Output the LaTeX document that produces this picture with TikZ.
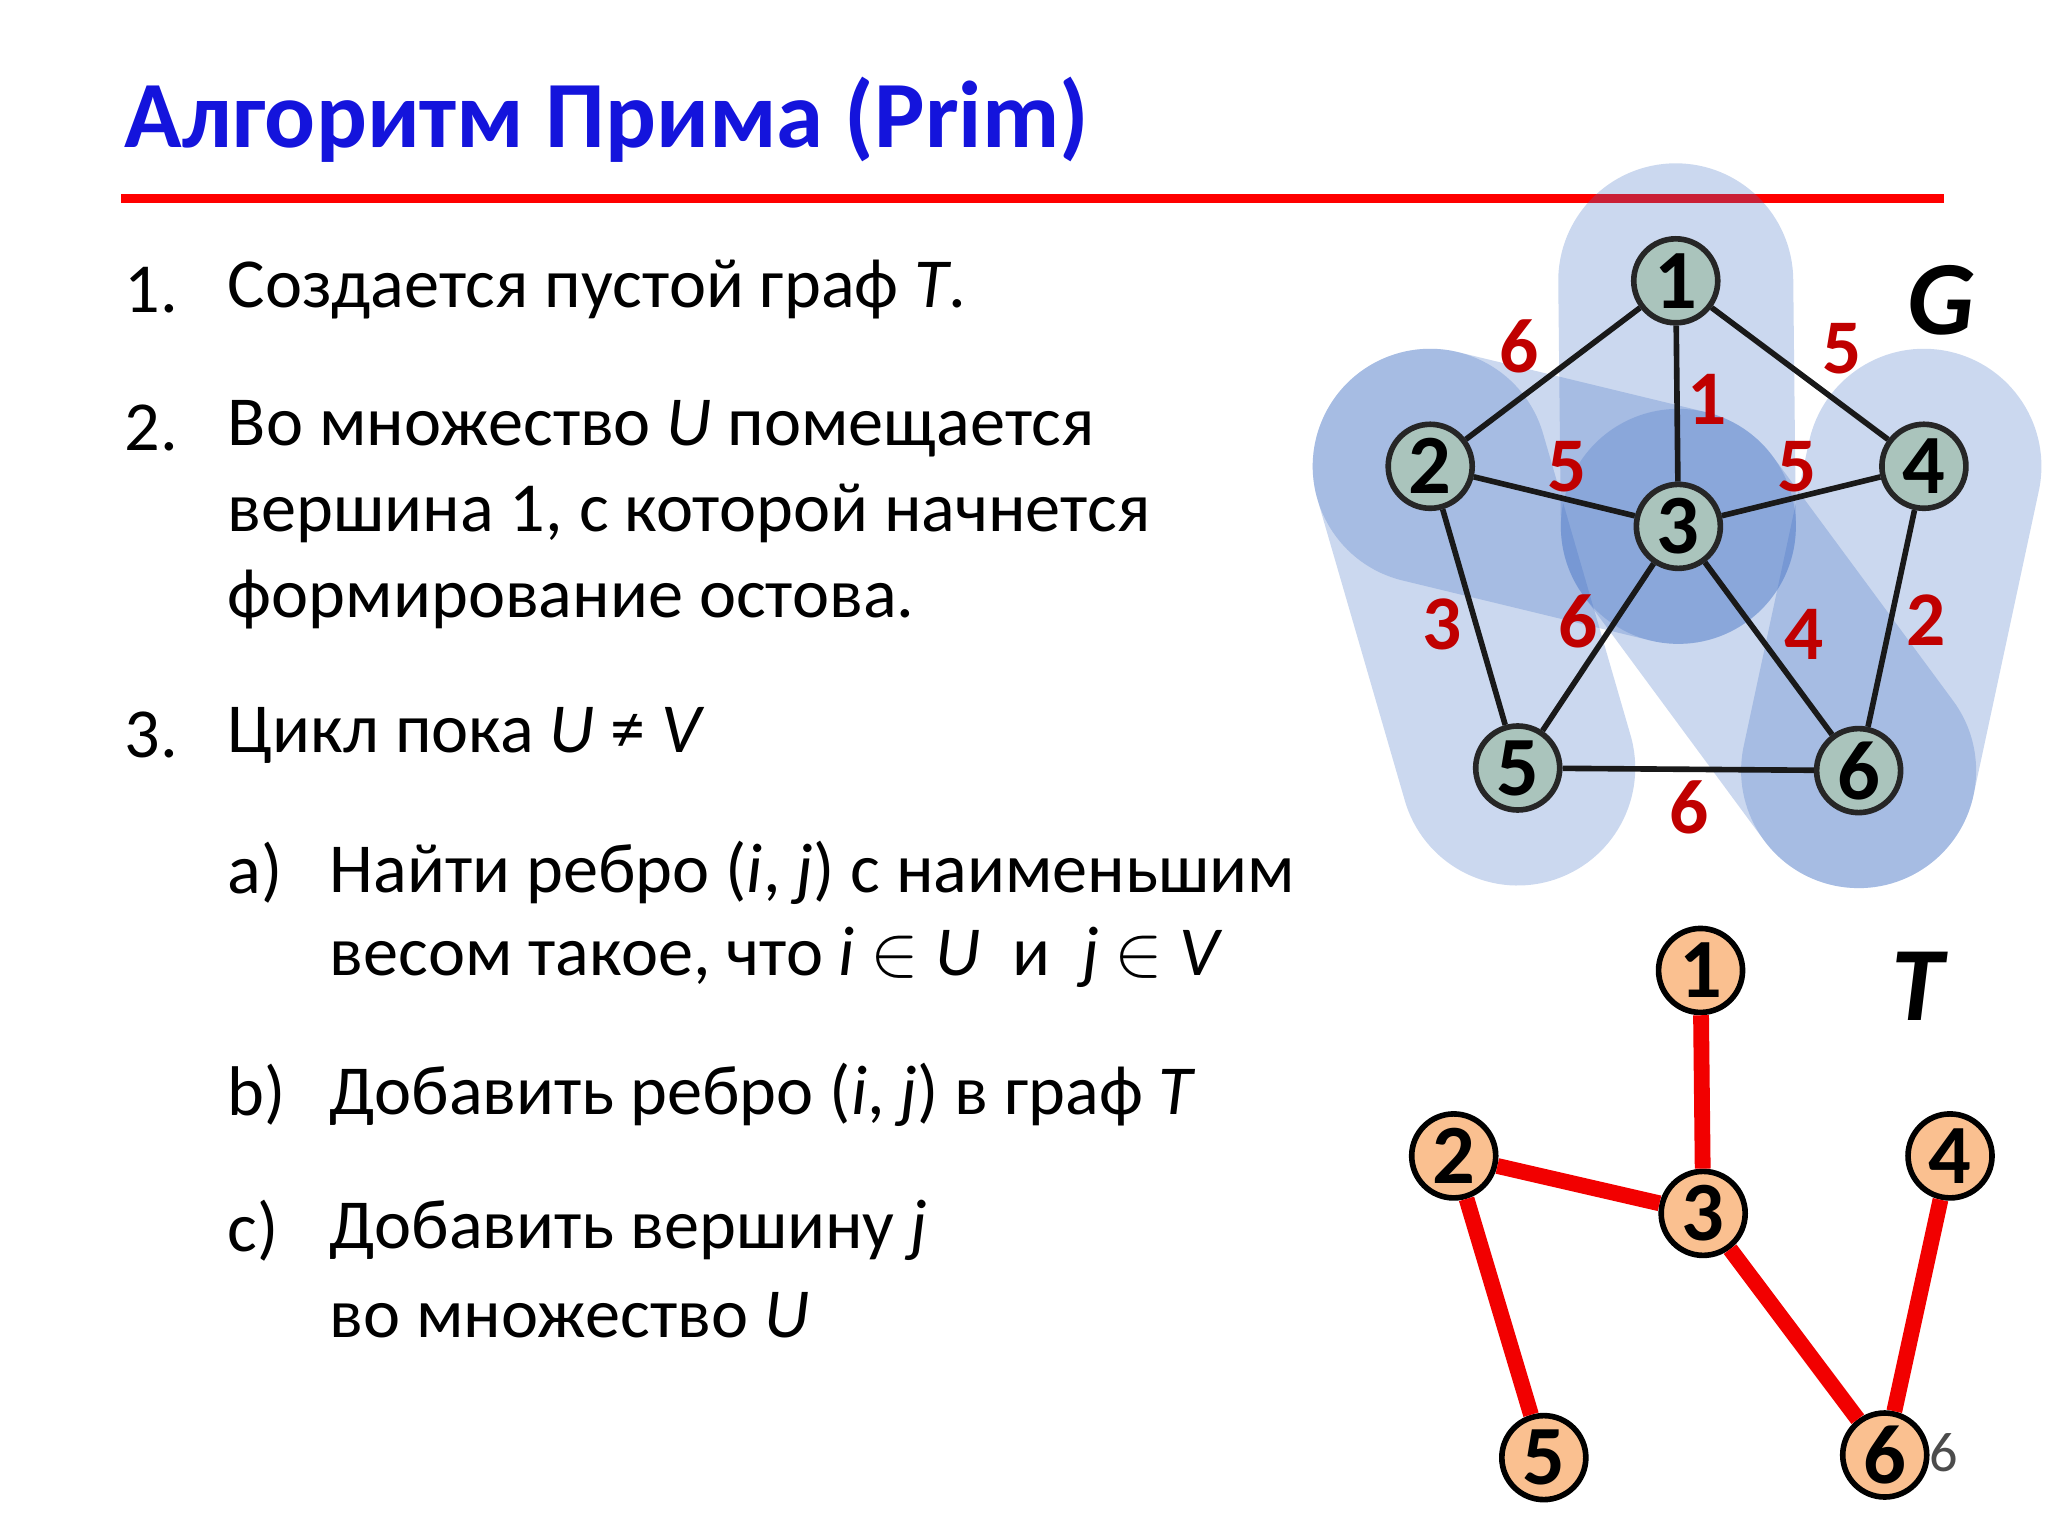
\documentclass[tikz,border=0pt]{standalone}
\usepackage{fontspec}
\setmainfont{Carlito}
\begin{document}
\begin{tikzpicture}[x=0.01306cm,y=-0.01306cm,
 gn/.style={circle,draw=black!85,line width=1.6pt,fill={rgb,255:red,170;green,196;blue,188},minimum size=0.84cm,inner sep=0pt,font=\fontsize{24}{24}\selectfont\bfseries},
 tn/.style={circle,draw=black,line width=1.6pt,fill={rgb,255:red,250;green,192;blue,144},minimum size=0.84cm,inner sep=0pt,font=\fontsize{24}{24}\selectfont\bfseries},
 ge/.style={line width=1.6pt,black!90},
 te/.style={line width=4.5pt,red!95!black},
 hl/.style={line width=2.35cm,line cap=round,draw={rgb,255:red,68;green,114;blue,196},opacity=0.28},
 w/.style={text={rgb,255:red,192;green,0;blue,0},font=\fontsize{22}{22}\selectfont\bfseries},
 tx/.style={anchor=west,font=\fontsize{20}{24}\selectfont},
]
\useasboundingbox (0,0) rectangle (1568,1176);
\node[anchor=west,text={rgb,255:red,20;green,20;blue,220},font=\fontsize{27}{30}\selectfont\bfseries] (title) at (86,92) {Алгоритм Прима (Prim)};
\coordinate (la) at (93,152); \coordinate (lb) at (1488,152);
\draw[line width=2.6pt,red] (la) -- (lb);
% text
\node[tx] (n1) at (86,222) {1.};
\node[tx] (t1) at (165,222) {Создается пустой граф \textit{T}.};
\node[tx] (n2) at (86,328) {2.};
\node[tx] (t2) at (165,328) {Во множество \textit{U} помещается};
\node[tx] (t2b) at (165,393) {вершина 1, с которой начнется};
\node[tx] (t2c) at (165,459) {формирование остова.};
\node[tx] (n3) at (86,563) {3.};
\node[tx] (t3) at (165,563) {Цикл пока \textit{U} ≠ \textit{V}};
\node[tx] (na) at (165,668) {a)};
\node[tx] (ta) at (243,668) {Найти ребро (\textit{i}, \textit{j}) с наименьшим};
\node[tx] (ta2) at (243,733) {весом такое, что \textit{i} $\in$ \textit{U}\ \ и\ \ \textit{j} $\in$ \textit{V}};
\node[tx] (nb) at (165,838) {b)};
\node[tx] (tb) at (243,838) {Добавить ребро (\textit{i}, \textit{j}) в граф \textit{T}};
\node[tx] (nc) at (165,942) {c)};
\node[tx] (tc) at (243,942) {Добавить вершину \textit{j}};
\node[tx] (tc2) at (243,1007) {во множество \textit{U}};
% G
\coordinate (h1) at (1283,215); \coordinate (h2) at (1095,357); \coordinate (h3) at (1285,403);
\coordinate (h4) at (1473,357); \coordinate (h5) at (1162,588); \coordinate (h6) at (1423,590);
\draw[hl] (h1) -- (h3);
\draw[hl] (h2) -- (h3);
\draw[hl] (h2) -- (h5);
\draw[hl] (h3) -- (h6);
\draw[hl] (h4) -- (h6);
\node[gn] (g1) at (h1) {1};
\node[gn] (g2) at (h2) {2};
\node[gn] (g3) at (h3) {3};
\node[gn] (g4) at (h4) {4};
\node[gn] (g5) at (h5) {5};
\node[gn] (g6) at (h6) {6};
\begin{scope}[on background layer/.style={}]
\draw[ge] (g1)--(g2); \draw[ge] (g1)--(g4); \draw[ge] (g1)--(g3);
\draw[ge] (g2)--(g3); \draw[ge] (g3)--(g4); \draw[ge] (g2)--(g5);
\draw[ge] (g3)--(g5); \draw[ge] (g3)--(g6); \draw[ge] (g4)--(g6); \draw[ge] (g5)--(g6);
\end{scope}
\node[w] (w12) at (1163,265) {6};
\node[w] (w14) at (1410,267) {5};
\node[w] (w13) at (1307,306) {1};
\node[w] (w23) at (1200,357) {5};
\node[w] (w34) at (1376,357) {5};
\node[w] (w25) at (1104,478) {3};
\node[w] (w35) at (1208,476) {6};
\node[w] (w36) at (1381,486) {4};
\node[w] (w46) at (1475,475) {2};
\node[w] (w56) at (1293,618) {6};
\node[font=\fontsize{30}{30}\selectfont\bfseries\itshape] (G) at (1486,230) {G};
% T
\node[tn] (s1) at (1302,743) {1};
\node[tn] (s2) at (1113,885) {2};
\node[tn] (s3) at (1304,929) {3};
\node[tn] (s4) at (1493,885) {4};
\node[tn] (s5) at (1182,1116) {5};
\node[tn] (s6) at (1443,1114) {6};
\draw[te] (s1)--(s3); \draw[te] (s2)--(s3); \draw[te] (s2)--(s5);
\draw[te] (s3)--(s6); \draw[te] (s4)--(s6);
\node[font=\fontsize{30}{30}\selectfont\bfseries\itshape] (T) at (1468,755) {T};
\node[font=\fontsize{16}{16}\selectfont,text=black!70] (pg) at (1488,1112) {6};
\end{tikzpicture}
\end{document}
